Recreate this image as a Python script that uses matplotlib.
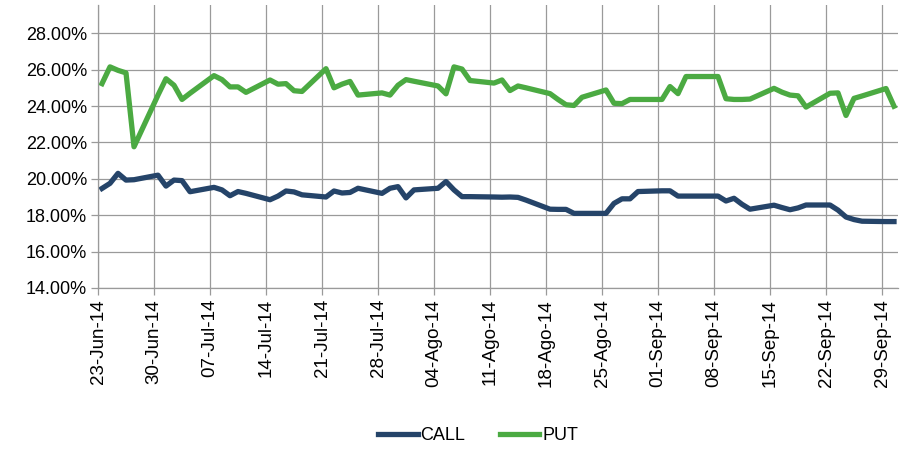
import numpy as np
import pandas as pd
import matplotlib
matplotlib.use('Agg')
import matplotlib.pyplot as plt
import matplotlib.dates as mdates

plt.rcParams['font.family'] = ['Liberation Sans', 'DejaVu Sans']

# business days 23-Jun-14 .. 30-Sep-14
dates = pd.bdate_range('2014-06-23', '2014-09-30')

# values in %
call = [19.47, 19.75, 20.30, 19.93, 19.95,
        20.20, 19.60, 19.93, 19.90, 19.29,
        19.53, 19.39, 19.07, 19.30, 19.20,
        18.85, 19.05, 19.33, 19.28, 19.12,
        19.00, 19.33, 19.22, 19.25, 19.48,
        19.20, 19.48, 19.57, 18.95, 19.39,
        19.48, 19.85, 19.39, 19.02, 19.02,
        19.00, 18.99, 19.00, 18.98, 18.83,
        18.33, 18.32, 18.32, 18.10, 18.10,
        18.10, 18.65, 18.90, 18.90, 19.30,
        19.34, 19.34, 19.05, 19.05, 19.05,
        19.05, 18.78, 18.93, 18.60, 18.33,
        18.55, 18.42, 18.30, 18.40, 18.56,
        18.56, 18.28, 17.90, 17.76, 17.67,
        17.65, 17.65]

put = [25.23, 26.15, 25.96, 25.82, 21.76,
       24.60, 25.50, 25.14, 24.36, 24.70,
       25.67, 25.45, 25.05, 25.05, 24.75,
       25.43, 25.20, 25.23, 24.84, 24.80,
       26.05, 25.00, 25.20, 25.35, 24.60,
       24.72, 24.60, 25.14, 25.45, 25.36,
       25.10, 24.67, 26.15, 26.03, 25.40,
       25.26, 25.43, 24.85, 25.10, 25.00,
       24.68, 24.36, 24.07, 24.03, 24.48,
       24.88, 24.15, 24.13, 24.36, 24.36,
       24.36, 25.07, 24.68, 25.62, 25.62,
       25.62, 24.40, 24.36, 24.36, 24.38,
       24.97, 24.76, 24.60, 24.56, 23.94,
       24.70, 24.72, 23.48, 24.42, 24.55,
       24.96, 23.99]

tick_dates = pd.date_range('2014-06-23', periods=15, freq='7D')
tick_labels = ['23-Jun-14', '30-Jun-14', '07-Jul-14', '14-Jul-14', '21-Jul-14',
               '28-Jul-14', '04-Ago-14', '11-Ago-14', '18-Ago-14', '25-Ago-14',
               '01-Sep-14', '08-Sep-14', '15-Sep-14', '22-Sep-14', '29-Sep-14']

fig = plt.figure(figsize=(9.01, 4.53), dpi=100)
ax = fig.add_axes([98/901, (453-288)/453, 800/901, 283/453])

x = dates + pd.Timedelta(hours=12)
ax.plot(x, np.array(call)/100, color='#254469', lw=3.8, label='CALL', solid_joinstyle='round')
ax.plot(x, np.array(put)/100, color='#4BAA42', lw=3.8, label='PUT', solid_joinstyle='round')

ax.set_xlim(pd.Timestamp('2014-06-23'), pd.Timestamp('2014-10-01'))
ax.set_ylim(0.14, 0.2955)
ax.set_yticks(np.arange(0.14, 0.2801, 0.02))
ax.set_yticklabels(['%.2f%%' % (v*100) for v in np.arange(0.14, 0.2801, 0.02)], fontsize=13)
ax.set_xticks(tick_dates)
ax.set_xticklabels(tick_labels, rotation=90, fontsize=13.5)

ax.grid(True, color='#9a9a9a', lw=0.9)
ax.set_axisbelow(True)
for s in ['top', 'right']:
    ax.spines[s].set_visible(False)
for s in ['left', 'bottom']:
    ax.spines[s].set_color('#9a9a9a')
    ax.spines[s].set_linewidth(0.9)
ax.tick_params(axis='both', direction='out', length=5, color='#9a9a9a', width=0.9, pad=3)

fig.legend(loc='center', bbox_to_anchor=(478/901, 1-436/453), ncol=2, frameon=False,
           fontsize=13, handlelength=2.2, handletextpad=0.15, columnspacing=1.9)

fig.savefig('out.png', dpi=100)
